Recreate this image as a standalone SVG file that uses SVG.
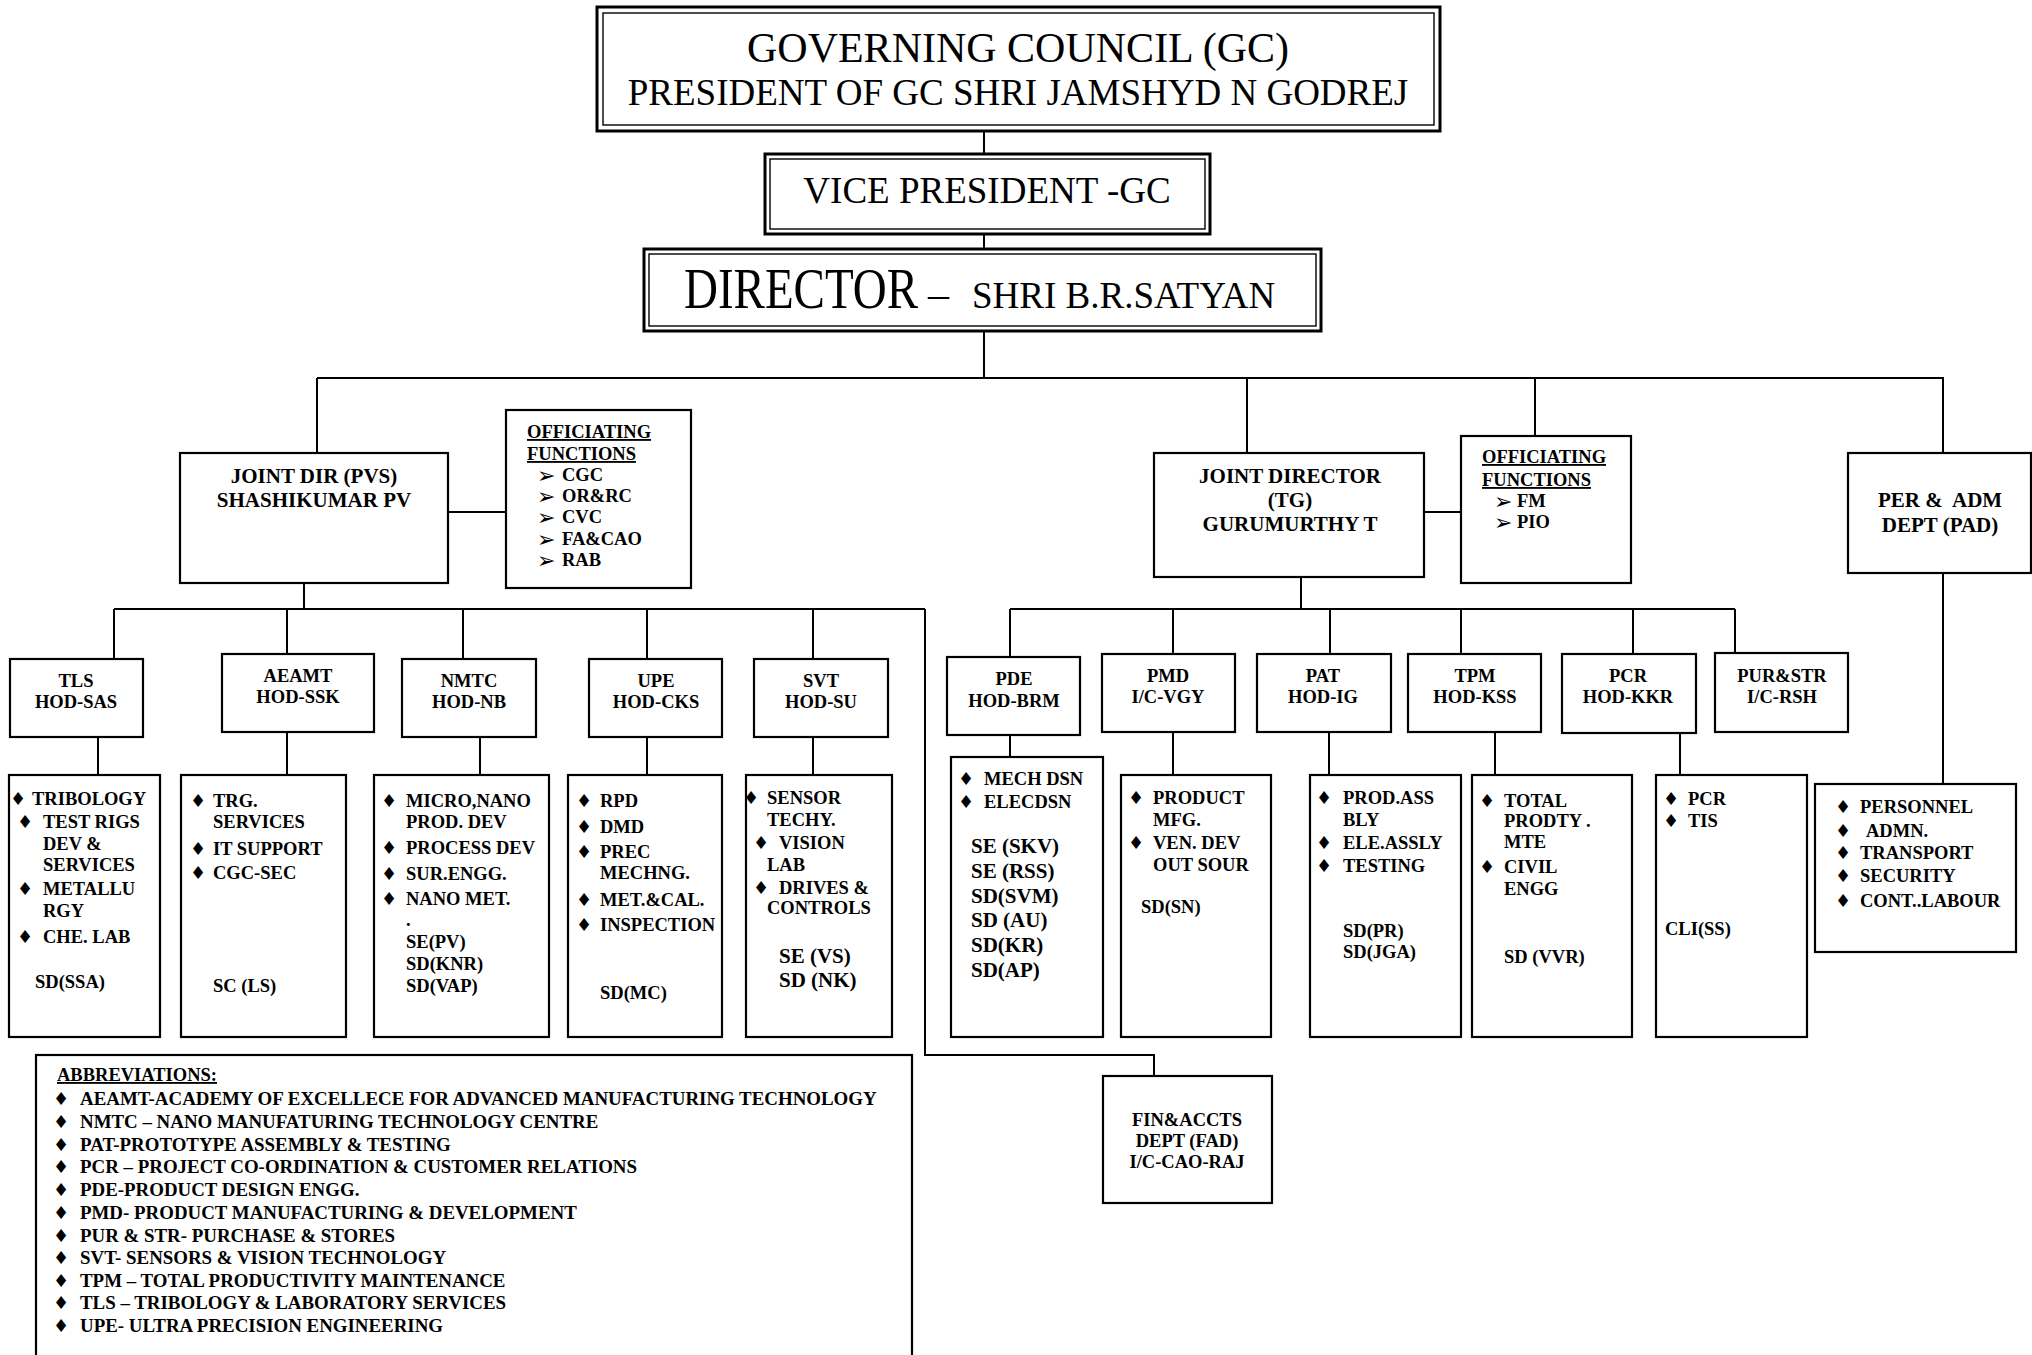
<svg xmlns="http://www.w3.org/2000/svg" width="2032" height="1355" viewBox="0 0 2032 1355">
<style>
.bx{fill:#fff;stroke:#000;stroke-width:2.2}
.bo{fill:#fff;stroke:#000;stroke-width:3}
.bi{fill:none;stroke:#000;stroke-width:1.4}
.ln{fill:none;stroke:#000;stroke-width:2}
text{font-family:"Liberation Serif","Times New Roman",serif;fill:#000}
.b{font-weight:bold;font-size:18.5px}
.a{font-weight:bold;font-size:18.9px}
.h{font-weight:bold;font-size:21px}
.m{text-anchor:middle}
text.dm{font-family:"DejaVu Sans",sans-serif;font-size:18px;text-anchor:middle}
text.ar{font-family:"DejaVu Sans",sans-serif;font-size:22px}
.u{text-decoration:underline}
</style>
<rect width="2032" height="1355" fill="#fff"/>
<g id="connectors" class="ln">
<path d="M984 132V153M984 235V249M984 331V378"/>
<path d="M317 378H1944M317 378V453M1247 378V453M1535 378V436M1943 378V453"/>
<path d="M448 512H506M304 583V609M114 609H925M114 609V659M287 609V654M463 609V659M647 609V659M813 609V659"/>
<path d="M925 609V1055H1154V1076"/>
<path d="M98 737V775M287 732V775M480 737V775M647 737V775M813 737V775"/>
<path d="M1424 512H1461M1301 577V609M1010 609H1735M1010 609V657M1173 609V654M1330 609V654M1461 609V654M1633 609V654M1735 609V653"/>
<path d="M1010 735V757M1173 732V775M1329 732V775M1495 732V775M1680 733V775M1943 573V784"/>
</g>
<g id="gc"><rect class="bo" x="597" y="7" width="843" height="124"/><rect class="bi" x="603" y="13" width="831" height="112"/>
<text x="1018" y="62" class="m" font-size="42">GOVERNING COUNCIL (GC)</text>
<text x="1018" y="105" class="m" font-size="37">PRESIDENT OF GC SHRI JAMSHYD N GODREJ</text></g>
<g id="vp"><rect class="bo" x="765" y="154" width="445" height="80"/><rect class="bi" x="770" y="159" width="435" height="70"/>
<text x="987" y="203" class="m" font-size="37">VICE PRESIDENT -GC</text></g>
<g id="director"><rect class="bo" x="644" y="249" width="677" height="82"/><rect class="bi" x="649" y="254" width="667" height="72"/>
<text transform="translate(684 308) scale(0.81 1)" font-size="58">DIRECTOR</text>
<text x="928" y="308" font-size="42">–</text>
<text x="972" y="308" font-size="37">SHRI B.R.SATYAN</text></g>
<g id="jd-pvs"><rect class="bx" x="180" y="453" width="268" height="130"/>
<text class="h m" x="314" y="483">JOINT DIR (PVS)</text><text class="h m" x="314" y="507">SHASHIKUMAR PV</text></g>
<g id="off-pvs"><rect class="bx" x="506" y="410" width="185" height="178"/>
<text class="b u" x="527" y="438">OFFICIATING</text><text class="b u" x="527" y="460">FUNCTIONS</text>
<text class="ar" x="537" y="483">➢</text><text class="b" x="562" y="481">CGC</text>
<text class="ar" x="537" y="504">➢</text><text class="b" x="562" y="502">OR&amp;RC</text>
<text class="ar" x="537" y="525">➢</text><text class="b" x="562" y="523">CVC</text>
<text class="ar" x="537" y="547">➢</text><text class="b" x="562" y="545">FA&amp;CAO</text>
<text class="ar" x="537" y="568">➢</text><text class="b" x="562" y="566">RAB</text></g>
<g id="jd-tg"><rect class="bx" x="1154" y="453" width="270" height="124"/>
<text class="h m" x="1290" y="483">JOINT DIRECTOR</text><text class="h m" x="1290" y="507">(TG)</text><text class="h m" x="1290" y="531">GURUMURTHY T</text></g>
<g id="off-tg"><rect class="bx" x="1461" y="436" width="170" height="147"/>
<text class="b u" x="1482" y="463">OFFICIATING</text><text class="b u" x="1482" y="486">FUNCTIONS</text>
<text class="ar" x="1494" y="509">➢</text><text class="b" x="1517" y="507">FM</text>
<text class="ar" x="1494" y="530">➢</text><text class="b" x="1517" y="528">PIO</text></g>
<g id="pad"><rect class="bx" x="1848" y="453" width="183" height="120"/>
<text class="h m" x="1940" y="507" xml:space="preserve">PER &amp;  ADM</text><text class="h m" x="1940" y="532">DEPT (PAD)</text></g>
<g id="pad-list"><rect class="bx" x="1815" y="784" width="201" height="168"/>
<text class="dm" x="1843" y="813">♦</text><text class="b" x="1860" y="813">PERSONNEL</text>
<text class="dm" x="1843" y="837">♦</text><text class="b" x="1866" y="837">ADMN.</text>
<text class="dm" x="1843" y="859">♦</text><text class="b" x="1860" y="859">TRANSPORT</text>
<text class="dm" x="1843" y="882">♦</text><text class="b" x="1860" y="882">SECURITY</text>
<text class="dm" x="1843" y="907">♦</text><text class="b" x="1860" y="907">CONT..LABOUR</text></g>
<g id="tls"><rect class="bx" x="10" y="659" width="133" height="78"/>
<text class="b m" x="76" y="687">TLS</text><text class="b m" x="76" y="708">HOD-SAS</text></g>
<g id="tls-list"><rect class="bx" x="9" y="775" width="151" height="262"/>
<text class="dm" x="18" y="805">♦</text><text class="b" x="32" y="805">TRIBOLOGY</text>
<text class="dm" x="25" y="828">♦</text><text class="b" x="43" y="828">TEST RIGS</text>
<text class="b" x="43" y="850">DEV &amp;</text><text class="b" x="43" y="871">SERVICES</text>
<text class="dm" x="25" y="895">♦</text><text class="b" x="43" y="895">METALLU</text>
<text class="b" x="43" y="917">RGY</text>
<text class="dm" x="25" y="943">♦</text><text class="b" x="43" y="943">CHE. LAB</text>
<text class="b" x="35" y="988">SD(SSA)</text></g>
<g id="aeamt"><rect class="bx" x="222" y="654" width="152" height="78"/>
<text class="b m" x="298" y="682">AEAMT</text><text class="b m" x="298" y="703">HOD-SSK</text></g>
<g id="aeamt-list"><rect class="bx" x="181" y="775" width="165" height="262"/>
<text class="dm" x="198" y="807">♦</text><text class="b" x="213" y="807">TRG.</text>
<text class="b" x="213" y="828">SERVICES</text>
<text class="dm" x="198" y="855">♦</text><text class="b" x="213" y="855">IT SUPPORT</text>
<text class="dm" x="198" y="879">♦</text><text class="b" x="213" y="879">CGC-SEC</text>
<text class="b" x="213" y="992">SC (LS)</text></g>
<g id="nmtc"><rect class="bx" x="402" y="659" width="134" height="78"/>
<text class="b m" x="469" y="687">NMTC</text><text class="b m" x="469" y="708">HOD-NB</text></g>
<g id="nmtc-list"><rect class="bx" x="374" y="775" width="175" height="262"/>
<text class="dm" x="389" y="807">♦</text><text class="b" x="406" y="807">MICRO,NANO</text>
<text class="b" x="406" y="828">PROD. DEV</text>
<text class="dm" x="389" y="854">♦</text><text class="b" x="406" y="854">PROCESS DEV</text>
<text class="dm" x="389" y="880">♦</text><text class="b" x="406" y="880">SUR.ENGG.</text>
<text class="dm" x="389" y="905">♦</text><text class="b" x="406" y="905">NANO MET.</text>
<text class="b" x="406" y="926">.</text>
<text class="b" x="406" y="948">SE(PV)</text><text class="b" x="406" y="970">SD(KNR)</text><text class="b" x="406" y="992">SD(VAP)</text></g>
<g id="upe"><rect class="bx" x="589" y="659" width="133" height="78"/>
<text class="b m" x="656" y="687">UPE</text><text class="b m" x="656" y="708">HOD-CKS</text></g>
<g id="upe-list"><rect class="bx" x="568" y="775" width="154" height="262"/>
<text class="dm" x="584" y="807">♦</text><text class="b" x="600" y="807">RPD</text>
<text class="dm" x="584" y="833">♦</text><text class="b" x="600" y="833">DMD</text>
<text class="dm" x="584" y="858">♦</text><text class="b" x="600" y="858">PREC</text>
<text class="b" x="600" y="879">MECHNG.</text>
<text class="dm" x="584" y="906">♦</text><text class="b" x="600" y="906">MET.&amp;CAL.</text>
<text class="dm" x="584" y="931">♦</text><text class="b" x="600" y="931">INSPECTION</text>
<text class="b" x="600" y="999">SD(MC)</text></g>
<g id="svt"><rect class="bx" x="754" y="659" width="134" height="78"/>
<text class="b m" x="821" y="687">SVT</text><text class="b m" x="821" y="708">HOD-SU</text></g>
<g id="svt-list"><rect class="bx" x="746" y="775" width="146" height="262"/>
<text class="dm" x="751" y="804">♦</text><text class="b" x="767" y="804">SENSOR</text>
<text class="b" x="767" y="826">TECHY.</text>
<text class="dm" x="761" y="849">♦</text><text class="b" x="779" y="849">VISION</text>
<text class="b" x="767" y="871">LAB</text>
<text class="dm" x="761" y="894">♦</text><text class="b" x="779" y="894">DRIVES &amp;</text>
<text class="b" x="767" y="914">CONTROLS</text>
<text class="h" x="779" y="963">SE (VS)</text><text class="h" x="779" y="987">SD (NK)</text></g>
<g id="pde"><rect class="bx" x="947" y="657" width="133" height="78"/>
<text class="b m" x="1014" y="685">PDE</text><text class="b m" x="1014" y="707">HOD-BRM</text></g>
<g id="pde-list"><rect class="bx" x="951" y="757" width="152" height="280"/>
<text class="dm" x="966" y="785">♦</text><text class="b" x="984" y="785">MECH DSN</text>
<text class="dm" x="966" y="808">♦</text><text class="b" x="984" y="808">ELECDSN</text>
<text class="h" x="971" y="853">SE (SKV)</text><text class="h" x="971" y="878">SE (RSS)</text><text class="h" x="971" y="903">SD(SVM)</text>
<text class="h" x="971" y="927">SD (AU)</text><text class="h" x="971" y="952">SD(KR)</text><text class="h" x="971" y="977">SD(AP)</text></g>
<g id="pmd"><rect class="bx" x="1102" y="654" width="133" height="78"/>
<text class="b m" x="1168" y="682">PMD</text><text class="b m" x="1168" y="703">I/C-VGY</text></g>
<g id="pmd-list"><rect class="bx" x="1121" y="775" width="150" height="262"/>
<text class="dm" x="1136" y="804">♦</text><text class="b" x="1153" y="804">PRODUCT</text>
<text class="b" x="1153" y="826">MFG.</text>
<text class="dm" x="1136" y="849">♦</text><text class="b" x="1153" y="849">VEN. DEV</text>
<text class="b" x="1153" y="871">OUT SOUR</text>
<text class="b" x="1141" y="913">SD(SN)</text></g>
<g id="pat"><rect class="bx" x="1257" y="654" width="134" height="78"/>
<text class="b m" x="1323" y="682">PAT</text><text class="b m" x="1323" y="703">HOD-IG</text></g>
<g id="pat-list"><rect class="bx" x="1310" y="775" width="151" height="262"/>
<text class="dm" x="1324" y="804">♦</text><text class="b" x="1343" y="804">PROD.ASS</text>
<text class="b" x="1343" y="826">BLY</text>
<text class="dm" x="1324" y="849">♦</text><text class="b" x="1343" y="849">ELE.ASSLY</text>
<text class="dm" x="1324" y="872">♦</text><text class="b" x="1343" y="872">TESTING</text>
<text class="b" x="1343" y="937">SD(PR)</text><text class="b" x="1343" y="958">SD(JGA)</text></g>
<g id="tpm"><rect class="bx" x="1408" y="654" width="133" height="78"/>
<text class="b m" x="1475" y="682">TPM</text><text class="b m" x="1475" y="703">HOD-KSS</text></g>
<g id="tpm-list"><rect class="bx" x="1472" y="775" width="160" height="262"/>
<text class="dm" x="1487" y="807">♦</text><text class="b" x="1504" y="807">TOTAL</text>
<text class="b" x="1504" y="827">PRODTY .</text><text class="b" x="1504" y="848">MTE</text>
<text class="dm" x="1487" y="873">♦</text><text class="b" x="1504" y="873">CIVIL</text>
<text class="b" x="1504" y="895">ENGG</text>
<text class="b" x="1504" y="963">SD (VVR)</text></g>
<g id="pcr"><rect class="bx" x="1562" y="654" width="134" height="79"/>
<text class="b m" x="1628" y="682">PCR</text><text class="b m" x="1628" y="703">HOD-KKR</text></g>
<g id="pcr-list"><rect class="bx" x="1656" y="775" width="151" height="262"/>
<text class="dm" x="1671" y="805">♦</text><text class="b" x="1688" y="805">PCR</text>
<text class="dm" x="1671" y="827">♦</text><text class="b" x="1688" y="827">TIS</text>
<text class="b" x="1665" y="935">CLI(SS)</text></g>
<g id="purstr"><rect class="bx" x="1715" y="653" width="133" height="79"/>
<text class="b m" x="1782" y="682">PUR&amp;STR</text><text class="b m" x="1782" y="703">I/C-RSH</text></g>
<g id="fad"><rect class="bx" x="1103" y="1076" width="169" height="127"/>
<text class="b m" x="1187" y="1126">FIN&amp;ACCTS</text><text class="b m" x="1187" y="1147">DEPT (FAD)</text><text class="b m" x="1187" y="1168">I/C-CAO-RAJ</text></g>
<g id="abbreviations"><rect class="bx" x="36" y="1055" width="876" height="320"/>
<text class="b u" x="57" y="1081">ABBREVIATIONS:</text>
<text class="dm" x="61" y="1105">♦</text><text class="a" x="80" y="1105">AEAMT-ACADEMY OF EXCELLECE FOR ADVANCED MANUFACTURING TECHNOLOGY</text>
<text class="dm" x="61" y="1128">♦</text><text class="a" x="80" y="1128">NMTC – NANO MANUFATURING TECHNOLOGY CENTRE</text>
<text class="dm" x="61" y="1151">♦</text><text class="a" x="80" y="1151">PAT-PROTOTYPE ASSEMBLY &amp; TESTING</text>
<text class="dm" x="61" y="1173">♦</text><text class="a" x="80" y="1173">PCR – PROJECT CO-ORDINATION &amp; CUSTOMER RELATIONS</text>
<text class="dm" x="61" y="1196">♦</text><text class="a" x="80" y="1196">PDE-PRODUCT DESIGN ENGG.</text>
<text class="dm" x="61" y="1219">♦</text><text class="a" x="80" y="1219">PMD- PRODUCT MANUFACTURING &amp; DEVELOPMENT</text>
<text class="dm" x="61" y="1242">♦</text><text class="a" x="80" y="1242">PUR &amp; STR- PURCHASE &amp; STORES</text>
<text class="dm" x="61" y="1264">♦</text><text class="a" x="80" y="1264">SVT- SENSORS &amp; VISION TECHNOLOGY</text>
<text class="dm" x="61" y="1287">♦</text><text class="a" x="80" y="1287">TPM – TOTAL PRODUCTIVITY MAINTENANCE</text>
<text class="dm" x="61" y="1309">♦</text><text class="a" x="80" y="1309">TLS – TRIBOLOGY &amp; LABORATORY SERVICES</text>
<text class="dm" x="61" y="1332">♦</text><text class="a" x="80" y="1332">UPE- ULTRA PRECISION ENGINEERING</text></g>
</svg>
